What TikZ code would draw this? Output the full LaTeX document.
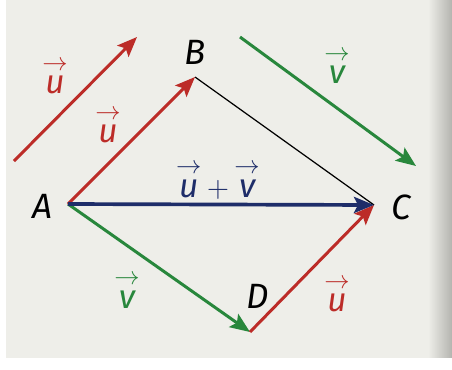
\documentclass[tikz,border=0pt]{standalone}
\usepackage{fontspec}
\setmainfont{Fira Sans}
\usepackage{amsmath}
\usetikzlibrary{arrows.meta}
\definecolor{vred}{RGB}{188,44,40}
\definecolor{vgreen}{RGB}{40,135,60}
\definecolor{vblue}{RGB}{30,45,105}
\definecolor{paper}{RGB}{238,238,233}
\definecolor{paperdark}{RGB}{180,180,175}
\newcommand{\vecl}[1]{$\overset{\rightarrow}{\mbox{\itshape #1}}$}
\tikzset{
  vec/.style={line width=1.7pt, -{Stealth[length=0.40cm, width=0.32cm, inset=0.08cm]}},
  pt/.style={font=\fontsize{20}{22}\selectfont\itshape, inner sep=0pt},
  lab/.style={font=\fontsize{19}{20}\selectfont, inner sep=0pt},
}

\begin{document}
\begin{tikzpicture}[x=0.02cm, y=-0.02cm]
    % fond du papier
    \fill[paper] (0,0) rectangle (452,369);
    \fill[white] (0,0) rectangle (6,369);
    \shade[left color=paper, right color=paperdark] (428,0) rectangle (452,358);
    \fill[white] (0,358) rectangle (452,369);
    \useasboundingbox (0,0) rectangle (452,369);

    % points du parallélogramme
    \coordinate (A) at (68,204);
    \coordinate (B) at (195,77);
    \coordinate (C) at (374,205);
    \coordinate (D) at (250,332);

    % représentants libres
    \coordinate (u0) at (14,161);
    \coordinate (u1) at (137,37);
    \coordinate (v0) at (240,37);
    \coordinate (v1) at (416,166);

    % noms des points
    \node[pt] (nA) at (42,206) {A};
    \node[pt] (nB) at (195,52) {B};
    \node[pt] (nC) at (401,207) {C};
    \node[pt] (nD) at (258,296) {D};

    % vecteurs
    \draw[vec, vred] (u0) -- (u1);
    \draw[vec, vgreen] (v0) -- (v1);
    \draw[black, line width=0.7pt] (B) -- (C);
    \draw[vec, vred] (A) -- (B);
    \draw[vec, vgreen] (A) -- (D);
    \draw[vec, vred] (D) -- (C);
    \draw[vec, vblue, line width=2.1pt] (A) -- (C);

    % étiquettes
    \node[lab, text=vred] (lu0) at (55,76) {\vecl{u}};
    \node[lab, text=vred] (lu1) at (108,125) {\vecl{u}};
    \node[lab, text=vgreen] (lv0) at (337,66) {\vecl{v}};
    \node[lab, text=vgreen] (lv1) at (127,290) {\vecl{v}};
    \node[lab, text=vred] (lu2) at (337,294) {\vecl{u}};
    \node[lab, text=vblue] (luv) at (218,180) {\vecl{u}\,$+$\,\vecl{v}};
\end{tikzpicture}
\end{document}
